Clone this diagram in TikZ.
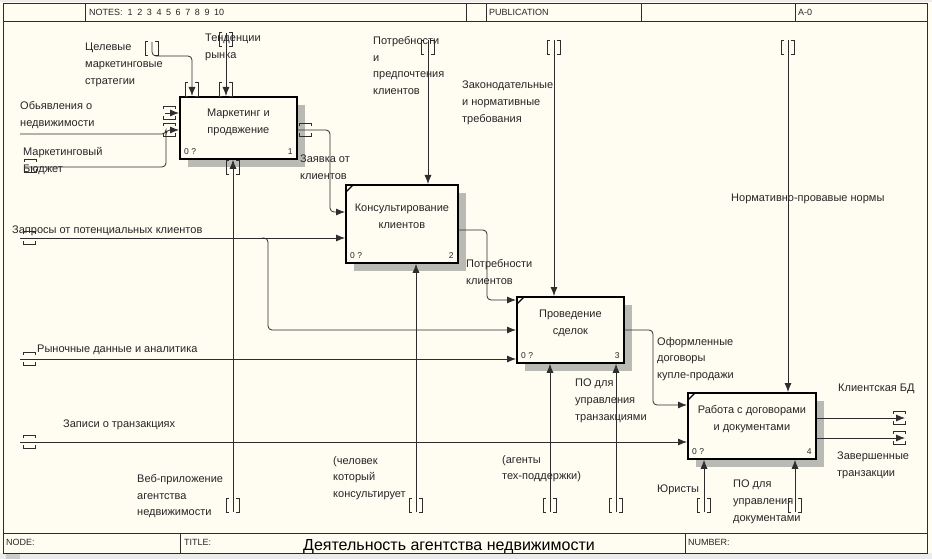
\documentclass[tikz,border=0pt]{standalone}
\usepackage{fontspec}
\setmainfont{Liberation Sans}
\usetikzlibrary{arrows.meta,calc,shadows}
\definecolor{bg}{RGB}{255,252,242}
\definecolor{shd}{RGB}{186,186,180}
\definecolor{ln}{RGB}{45,45,45}
\definecolor{strip}{RGB}{236,236,236}
\newcommand\tunV[2]{%
  \draw[brk] (#1-4,#2-7) -- (#1-7,#2-7) -- (#1-7,#2+7) -- (#1-4,#2+7);
  \draw[brk] (#1+3,#2-7) -- (#1+6,#2-7) -- (#1+6,#2+7) -- (#1+3,#2+7);}
\newcommand\tunH[2]{%
  \draw[brk] (#1,#2-4) -- (#1,#2-7) -- (#1+12,#2-7) -- (#1+12,#2-4);
  \draw[brk] (#1,#2+3) -- (#1,#2+6) -- (#1+12,#2+6) -- (#1+12,#2+3);}
\begin{document}
\begin{tikzpicture}[x=1pt,y=-1pt,
  frame/.style={draw=ln, line width=0.8pt},
  box/.style={draw=black, line width=1.8pt, fill=bg, inner sep=0pt, anchor=north west,
     drop shadow={shadow xshift=8pt, shadow yshift=-8pt, fill=shd, opacity=1}},
  arr/.style={draw=ln, line width=0.8pt, rounded corners=4pt, -{Latex[length=9pt,width=7pt]}},
  ln/.style={draw=ln, line width=0.8pt, rounded corners=4pt},
  brk/.style={draw=ln, line width=0.6pt},
  lab/.style={font=\fontsize{11}{16.8}\selectfont, text=black!85, inner sep=0pt, align=left, anchor=north west, execute at begin node=\strut},
  lab2/.style={lab, yshift=-4pt},
  btxt/.style={font=\fontsize{11}{16.8}\selectfont, text=black!85, inner sep=0pt, align=center, anchor=north, yshift=-4pt, execute at begin node=\strut},
  num/.style={font=\fontsize{8.5}{9}\selectfont, text=black!85, inner sep=0pt},
  hdr/.style={font=\fontsize{9}{10}\selectfont, text=black!85, inner sep=0pt, anchor=west},
  diag/.style={draw=black, line width=1.3pt}]
\useasboundingbox (0,0) rectangle (932,559);
\fill[bg] (0,0) rectangle (932,553);
\fill[strip] (0,553) rectangle (932,559);
\fill[strip] (0,0) rectangle (932,2);
\fill[black!20] (6,553) rectangle (20,559);
% frame
\draw[frame] (3,3) rectangle (927,553);
\draw[frame] (3,21) -- (927,21);
\foreach \xx in {85,466,486,641,795} \draw[frame] (\xx,3) -- (\xx,21);
\draw[frame] (3,533) -- (927,533);
\foreach \xx in {180,685} \draw[frame] (\xx,533) -- (\xx,553);
\node[hdr] (hNotes) at (89,12) {NOTES:\hspace{5pt}1\hspace{4.6pt}2\hspace{4.6pt}3\hspace{4.6pt}4\hspace{4.6pt}5\hspace{4.6pt}6\hspace{4.6pt}7\hspace{4.6pt}8\hspace{4.6pt}9\hspace{4.6pt}10};
\node[hdr] (hPub) at (489,12) {PUBLICATION};
\node[hdr] (hA0) at (798,12) {A-0};
\node[hdr] (hNode) at (6,542) {NODE:};
\node[hdr] (hTitle) at (184,542) {TITLE:};
\node[hdr] (hNum) at (688,542) {NUMBER:};
\node[font=\fontsize{16}{18}\selectfont, inner sep=0pt] (title) at (449,547) {Деятельность агентства недвижимости};
% boxes
\node[box, minimum width=117pt, minimum height=62pt] (b1) at (179,96) {};
\node[box, minimum width=112pt, minimum height=78pt] (b2) at (345,184) {};
\node[box, minimum width=107pt, minimum height=66pt] (b3) at (516,296) {};
\node[box, minimum width=128pt, minimum height=66pt] (b4) at (687,392) {};
\foreach \b in {b2,b3,b4} \draw[diag] ($(\b.north west)+(1,8)$) -- ($(\b.north west)+(8,1)$);
\node[btxt] (t1) at ($(b1.north)+(0,9)$) {Маркетинг и\\продвжение};
\node[btxt] (t2) at ($(b2.north)+(0,16)$) {Консультирование\\клиентов};
\node[btxt] (t3) at ($(b3.north)+(0,10)$) {Проведение\\сделок};
\node[btxt] (t4) at ($(b4.north)+(0,9)$) {Работа с договорами\\и документами};
\foreach \b/\n in {b1/1,b2/2,b3/3,b4/4} {
  \node[num, anchor=west] (z\b) at ($(\b.south west)+(5,-8)$) {0 ?};
  \node[num, anchor=east] (n\b) at ($(\b.south east)+(-5,-8)$) {\n};
}
% free ends
\coordinate (sObj) at (20,134);
\coordinate (sBud) at (25,167);
\coordinate (sObj2) at (165,113);
\coordinate (sCel) at (152,42);
\coordinate (sTen) at (226,33);
\coordinate (sWeb) at (233,512);
\coordinate (sPot) at (428,40);
\coordinate (sZap) at (20,238);
\coordinate (jZap) at (262,238);
\coordinate (sChel) at (416,512);
\coordinate (sZak) at (554,40);
\coordinate (sRyn) at (20,359);
\coordinate (sAg) at (550,512);
\coordinate (sPOt) at (616,512);
\coordinate (sNorm) at (788,40);
\coordinate (sZapis) at (20,442);
\coordinate (sYur) at (704,512);
\coordinate (sPOd) at (795,512);
\coordinate (eBD) at (905,418);
\coordinate (eZav) at (905,438);
% connectors
\draw[arr] (sObj) -| (166,130) -- (b1.west |- 0,130);
\draw[ln] (sBud) -| (166,134);
\draw[arr] (sObj2) -- (b1.west |- 0,113);
\draw[arr] (sCel) |- (192,56) -- (192,0 |- b1.north);
\draw[arr] (sTen) -- (226,0 |- b1.north);
\draw[arr] (sWeb) -- (233,0 |- b1.south);
\draw[arr] (b1.east |- 0,130) -| (330,212) -- (b2.west |- 0,212);
\draw[arr] (sPot) -- (428,0 |- b2.north);
\draw[arr] (sZap) -- (b2.west |- 0,238);
\draw[arr] (jZap) -| (268,330) -- (b3.west |- 0,330);
\draw[arr] (sChel) -- (416,0 |- b2.south);
\draw[arr] (b2.east |- 0,230) -| (487,300) -- (b3.west |- 0,300);
\draw[arr] (sZak) -- (554,0 |- b3.north);
\draw[arr] (sRyn) -- (b3.west |- 0,359);
\draw[arr] (sAg) -- (550,0 |- b3.south);
\draw[arr] (sPOt) -- (616,0 |- b3.south);
\draw[arr] (b3.east |- 0,330) -| (653,405) -- (b4.west |- 0,405);
\draw[arr] (sNorm) -- (788,0 |- b4.north);
\draw[arr] (sZapis) -- (b4.west |- 0,442);
\draw[arr] (sYur) -- (704,0 |- b4.south);
\draw[arr] (sPOd) -- (795,0 |- b4.south);
\draw[arr] (b4.east |- 0,418) -- (eBD);
\draw[arr] (b4.east |- 0,438) -- (eZav);
% tunnel brackets
\tunV{152}{48}
\tunV{226}{39}
\tunV{192}{89}
\tunV{226}{89}
\tunV{233}{167}
\tunV{233}{505}
\tunV{428}{47}
\tunV{554}{47}
\tunV{788}{47}
\tunV{416}{505}
\tunV{550}{505}
\tunV{616}{505}
\tunV{704}{505}
\tunV{795}{505}
\tunH{23}{238}
\tunH{23}{359}
\tunH{23}{442}
\tunH{24}{166}
\tunH{163}{113}
\tunH{163}{130}
\tunH{299}{130}
\tunH{893}{418}
\tunH{893}{438}
% labels
\node[lab2] (lCel) at (85,39) {Целевые\\маркетинговые\\стратегии};
\node[lab2] (lTen) at (205,30) {Тенденции\\рынка};
\node[lab2] (lObj) at (20,97) {Обьявления о\\недвижимости};
\node[lab2] (lBud) at (23,143) {Маркетинговый\\Бюджет};
\node[lab2] (lPot) at (373,32) {Потребности\\и\\предпочтения\\клиентов};
\node[lab2] (lZak) at (462,77) {Законодательные\\и нормативные\\требования};
\node[lab2] (lZay) at (300,151) {Заявка от\\клиентов};
\node[lab] (lZap) at (12,222) {Запросы от потенциальных клиентов};
\node[lab2] (lPk) at (466,255) {Потребности\\клиентов};
\node[lab] (lNorm) at (731,190) {Нормативно-провавые нормы};
\node[lab] (lRyn) at (37,341) {Рыночные данные и аналитика};
\node[lab2] (lOf) at (657,333) {Оформленные\\договоры\\купле-продажи};
\node[lab2] (lPOt) at (575,375) {ПО для\\управления\\транзакциями};
\node[lab] (lBD) at (838,380) {Клиентская БД};
\node[lab] (lZapis) at (63,416) {Записи о транзакциях};
\node[lab2] (lZav) at (837,448) {Завершенные\\транзакции};
\node[lab2] (lAg) at (502,451) {(агенты\\тех-поддержки)};
\node[lab] (lYur) at (657,481) {Юристы};
\node[lab2] (lPOd) at (733,476) {ПО для\\управления\\документами};
\node[lab2] (lWeb) at (137,470) {Веб-приложение\\агентства\\недвижимости};
\node[lab2] (lChel) at (333,452) {(человек\\который\\консультирует};
\end{tikzpicture}
\end{document}
